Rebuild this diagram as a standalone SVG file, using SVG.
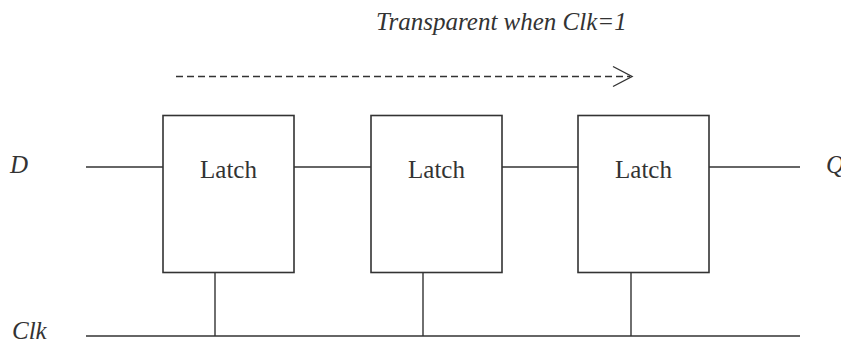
<svg xmlns="http://www.w3.org/2000/svg" width="841" height="342" viewBox="0 0 841 342">
  <style>
    .wire { stroke: #333; stroke-width: 1.4; fill: none; }
    .box { stroke: #333; stroke-width: 1.6; fill: #fff; }
    .lbl { font-family: "Liberation Serif", "Times New Roman", serif; font-size: 25px; fill: #333; }
    .it { font-style: italic; }
  </style>
  <rect width="841" height="342" fill="#fff"/>

  <!-- wiring: data chain, clock bus, clock taps, direction arrow -->
  <g id="connectors">
    <line class="wire" x1="86" y1="167" x2="163" y2="167"/>
    <line class="wire" x1="294" y1="167" x2="371" y2="167"/>
    <line class="wire" x1="502" y1="167" x2="578" y2="167"/>
    <line class="wire" x1="709" y1="167" x2="800" y2="167"/>
    <line class="wire" x1="86" y1="336" x2="800" y2="336"/>
    <line class="wire" x1="215" y1="272" x2="215" y2="336"/>
    <line class="wire" x1="423" y1="272" x2="423" y2="336"/>
    <line class="wire" x1="631" y1="272" x2="631" y2="336"/>
    <line class="wire" x1="176" y1="76.5" x2="630" y2="76.5" stroke-dasharray="7 4"/>
    <polyline class="wire" points="613,66.5 632,76.5 613,86.5"/>
  </g>

  <g id="latch1">
    <rect class="box" x="163" y="115.5" width="131" height="157"/>
    <text class="lbl" x="228.5" y="178" text-anchor="middle">Latch</text>
  </g>
  <g id="latch2">
    <rect class="box" x="371" y="115.5" width="131" height="157"/>
    <text class="lbl" x="436.5" y="178" text-anchor="middle">Latch</text>
  </g>
  <g id="latch3">
    <rect class="box" x="578" y="115.5" width="131" height="157"/>
    <text class="lbl" x="643.5" y="178" text-anchor="middle">Latch</text>
  </g>

  <g id="labels">
    <text class="lbl it" x="376" y="30">Transparent when Clk=1</text>
    <text class="lbl it" x="10" y="173">D</text>
    <text class="lbl it" x="826" y="173">Q</text>
    <text class="lbl it" x="12" y="339">Clk</text>
  </g>
</svg>
